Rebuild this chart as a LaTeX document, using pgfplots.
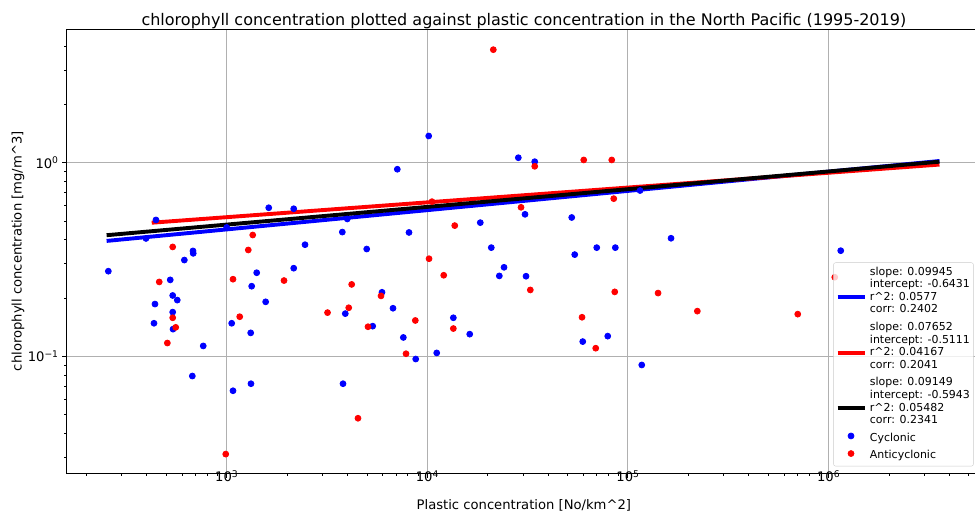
\documentclass[border=0pt]{standalone}
\usepackage{fontspec}
\setmainfont{DejaVu Sans}
\usepackage{pgfplots}
\pgfplotsset{compat=1.18}
\definecolor{gridgray}{HTML}{B0B0B0}
\definecolor{legframe}{HTML}{CCCCCC}
\pgfplotsset{
  lineleg/.style={legend image code/.code={\draw[##1, fill opacity=1, draw opacity=1] (0bp,-5.8bp) -- (27bp,-5.8bp);}},
  markleg/.style={legend image code/.code={\draw[##1, fill opacity=1, draw opacity=1] plot coordinates {(13.5bp,2.75bp)};}},
}
\begin{document}
\begin{tikzpicture}[x=1bp,y=1bp]
\path[use as bounding box] (-66.7,-40.7) rectangle (908.3,473.3);
\begin{loglogaxis}[
  at={(0,0)}, anchor=south west,
  scale only axis, width=914.3bp, height=444bp,
  xmin=159.4, xmax=5.754e6, ymin=0.02483, ymax=4.89,
  axis line style={line width=1.05bp, black},
  tick align=outside, tick pos=left,
  major tick length=4.6bp, minor tick length=2.6bp,
  major tick style={black, line width=1.05bp},
  minor tick style={black, line width=0.8bp},
  grid=major,
  major grid style={gridgray, line width=1.05bp},
  xtick={1000,10000,100000,1000000},
  xticklabels={10\textsuperscript{3},10\textsuperscript{4},10\textsuperscript{5},10\textsuperscript{6}},
  minor xtick={200,300,400,500,600,700,800,900,2000,3000,4000,5000,6000,7000,8000,9000,20000,30000,40000,50000,60000,70000,80000,90000,200000,300000,400000,500000,600000,700000,800000,900000,2000000,3000000,4000000,5000000},
  ytick={0.1,1},
  yticklabels={10\textsuperscript{−1},10\textsuperscript{0}},
  minor ytick={0.03,0.04,0.05,0.06,0.07,0.08,0.09,0.2,0.3,0.4,0.5,0.6,0.7,0.8,0.9,2,3,4},
  ticklabel style={font=\fontsize{13.15bp}{15bp}\selectfont},
  xticklabel style={anchor=base, yshift=-3.5bp},
  yticklabel style={anchor=east},
  title={chlorophyll concentration plotted against plastic concentration in the North Pacific (1995-2019)},
  title style={at={(axis description cs:0.5,1)}, anchor=base, yshift=-1.72bp, font=\fontsize{16bp}{18bp}\selectfont},
  xlabel={Plastic concentration [No/km\textasciicircum 2]},
  xlabel style={at={(axis description cs:0.5,0)}, anchor=base, yshift=-36.2bp, font=\fontsize{13.15bp}{15bp}\selectfont},
  ylabel={chlorophyll concentration [mg/m\textasciicircum 3]},
  ylabel style={at={(axis description cs:-0.0493,0.5)}, anchor=base, font=\fontsize{13.15bp}{15bp}\selectfont},
  legend cell align=left,
  legend style={at={(rel axis cs:1,0)}, anchor=south east, xshift=-7.4bp, yshift=7bp,
    draw=legframe, rounded corners=2bp, fill=white, fill opacity=0.8, text opacity=1, draw opacity=1,
    font=\fontsize{10.96bp}{12.6bp}\selectfont,
    inner xsep=2bp, inner ysep=1.5bp, row sep=1bp, column sep=2bp,
    nodes={inner xsep=1.5bp, inner ysep=2bp, text depth=, text height=}},
  lineleg,
]
% Cyclonic
\addplot[only marks, mark=*, mark size=2.95bp, mark options={fill=blue, draw=blue, line width=0.8bp}, forget plot] coordinates {
(257,0.275) (444,0.506) (396,0.406) (523,0.248) (439,0.186) (538,0.206) (567,0.195) (538,0.169) (434,0.148) (540,0.138)
(615,0.314) (679,0.350) (681,0.340) (764,0.113) (674,0.079) (1059,0.148) (1075,0.0663) (1317,0.132) (1321,0.0721) (1332,0.230)
(1411,0.270) (1564,0.191) (1620,0.585) (2158,0.578) (2158,0.285) (2457,0.377) (3770,0.438) (3901,0.166) (3800,0.0721) (3992,0.512)
(1000,0.463) (8104,0.436) (4988,0.358) (5945,0.214) (5343,0.143) (6745,0.177) (7595,0.125) (8754,0.0967) (11140,0.104) (13480,0.158)
(16270,0.130) (18370,0.490) (20840,0.364) (24120,0.288) (22850,0.260) (30690,0.541) (31050,0.259) (52450,0.521) (54290,0.335) (69900,0.364)
(86540,0.364) (59530,0.119) (79310,0.127) (10160,1.374) (7087,0.925) (28420,1.061) (34310,1.012) (114900,0.718) (164000,0.407) (117200,0.0901)
(1150000,0.351)
};
% Anticyclonic
\addplot[only marks, mark=*, mark size=2.95bp, mark options={fill=red, draw=red, line width=0.8bp}, forget plot] coordinates {
(461,0.242) (538,0.367) (538,0.158) (557,0.141) (506,0.117) (989,0.0312) (1075,0.250) (1161,0.160) (1281,0.354) (1348,0.423)
(1931,0.246) (3181,0.168) (4057,0.178) (4197,0.235) (4512,0.0478) (5062,0.142) (5877,0.205) (8713,0.153) (7832,0.103) (10200,0.319)
(12070,0.262) (13700,0.473) (13480,0.139) (29320,0.588) (32610,0.220) (59050,0.159) (69100,0.110) (85950,0.215) (84960,0.652) (21330,3.837)
(34310,0.958) (60220,1.033) (83050,1.033) (10550,0.629) (141300,0.212) (221800,0.171) (702300,0.165) (1074000,0.256)
};
% fits
\addplot[blue, line width=3.9bp] coordinates {(252,0.3943) (3570000,1.0200)};
\addlegendentry{\begin{tabular}{@{}l@{}}slope: 0.09945\\intercept: -0.6431\\r\textasciicircum 2: 0.0577\\corr: 0.2402\end{tabular}}
\addplot[red, line width=3.9bp] coordinates {(423,0.4896) (3570000,0.9780)};
\addlegendentry{\begin{tabular}{@{}l@{}}slope: 0.07652\\intercept: -0.5111\\r\textasciicircum 2: 0.04167\\corr: 0.2041\end{tabular}}
\addplot[black, line width=3.9bp] coordinates {(252,0.4220) (3570000,1.0121)};
\addlegendentry{\begin{tabular}{@{}l@{}}slope: 0.09149\\intercept: -0.5943\\r\textasciicircum 2: 0.05482\\corr: 0.2341\end{tabular}}
\addlegendimage{only marks, mark=*, mark size=2.95bp, mark options={fill=blue, draw=blue, line width=0.8bp}, markleg}
\addlegendentry{\begin{tabular}{@{}l@{}}Cyclonic\end{tabular}}
\addlegendimage{only marks, mark=*, mark size=2.95bp, mark options={fill=red, draw=red, line width=0.8bp}, markleg}
\addlegendentry{\begin{tabular}{@{}l@{}}Anticyclonic\end{tabular}}
\end{loglogaxis}
\end{tikzpicture}
\end{document}
